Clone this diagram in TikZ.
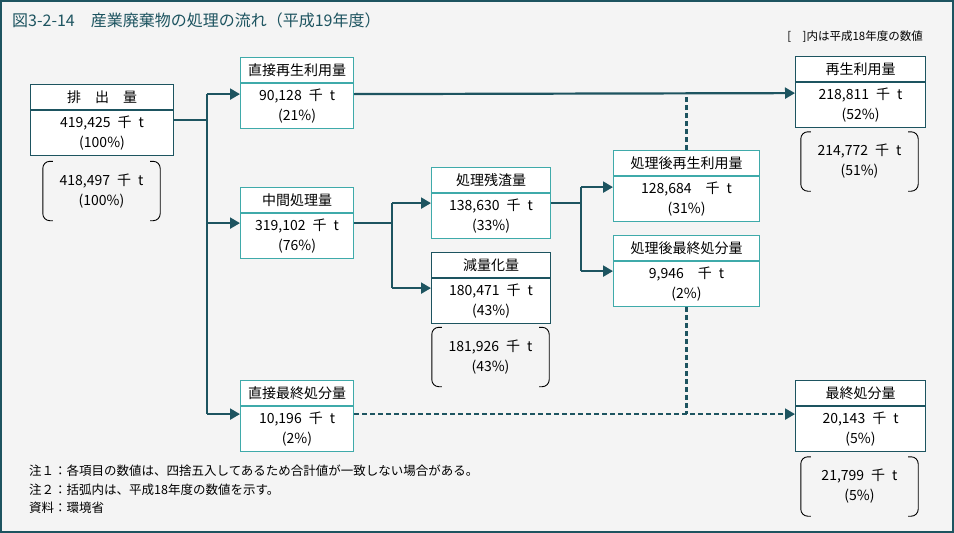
\documentclass[tikz,border=0pt]{standalone}
\usepackage{fontspec}
\setmainfont{Noto Sans CJK JP}
\usetikzlibrary{arrows.meta}
\definecolor{dk}{HTML}{1D5460}
\definecolor{tl}{HTML}{3FAAAA}
\definecolor{bg}{HTML}{F4F4F4}
\begin{document}
\begin{tikzpicture}[x=1pt,y=-1pt,
  hdr/.style={draw=#1, fill=white, line width=1.1pt, minimum height=25pt, inner sep=0pt,
    anchor=north west, font=\fontsize{14}{16}\selectfont},
  bdy/.style={draw=#1, fill=white, line width=1.1pt, minimum height=45pt, inner sep=0pt,
    anchor=north, align=center, font=\fontsize{14}{20}\selectfont},
  brk/.style={minimum width=117pt, minimum height=59pt, inner sep=0pt, align=center,
    font=\fontsize{14}{20}\selectfont},
  brkline/.style={draw=black, line width=0.9pt, rounded corners=7pt},
  flow/.style={draw=dk, line width=2.2pt},
  arr/.style={draw=dk, line width=2.2pt, -{Triangle[length=10pt,width=11pt]}},
  dflow/.style={draw=dk, line width=2.2pt, dash pattern=on 5pt off 3pt},
  note/.style={anchor=west, inner sep=0pt, font=\fontsize{12.5}{14}\selectfont}
]
\useasboundingbox (0,0) rectangle (954,533);
\draw[draw=dk, fill=bg, line width=2pt] (1,1) rectangle (953,532);

\node[anchor=west, inner sep=0pt, text=dk, font=\fontsize{16}{18}\selectfont] (title) at (12,20)
  {図3-2-14　産業廃棄物の処理の流れ（平成19年度）};
\node[anchor=east, inner sep=0pt, font=\fontsize{11.5}{13}\selectfont] (legend) at (923,37)
  {[　]内は平成18年度の数値};

% boxes
\node[hdr=dk, minimum width=143pt] (Ph) at (30,84) {排　出　量};
\node[bdy=dk, minimum width=143pt] (Pb) at (Ph.south) {419,425\enspace 千\enspace t\\(100\%)};

\node[hdr=tl, minimum width=113pt] (DRh) at (240,57) {直接再生利用量};
\node[bdy=tl, minimum width=113pt] (DRb) at (DRh.south) {90,128\enspace 千\enspace t\\(21\%)};

\node[hdr=tl, minimum width=113pt] (MTh) at (240,187) {中間処理量};
\node[bdy=tl, minimum width=113pt] (MTb) at (MTh.south) {319,102\enspace 千\enspace t\\(76\%)};

\node[hdr=tl, minimum width=119pt] (RSh) at (431,167) {処理残渣量};
\node[bdy=tl, minimum width=119pt] (RSb) at (RSh.south) {138,630\enspace 千\enspace t\\(33\%)};

\node[hdr=dk, minimum width=119pt] (RDh) at (431,252) {減量化量};
\node[bdy=dk, minimum width=119pt] (RDb) at (RDh.south) {180,471\enspace 千\enspace t\\(43\%)};

\node[hdr=tl, minimum width=146pt] (PRh) at (613,150) {処理後再生利用量};
\node[bdy=tl, minimum width=146pt] (PRb) at (PRh.south) {128,684　千\enspace t\\(31\%)};

\node[hdr=tl, minimum width=146pt] (PFh) at (613,235) {処理後最終処分量};
\node[bdy=tl, minimum width=146pt] (PFb) at (PFh.south) {9,946　千\enspace t\\(2\%)};

\node[hdr=tl, minimum width=113pt] (DFh) at (240,380) {直接最終処分量};
\node[bdy=tl, minimum width=113pt] (DFb) at (DFh.south) {10,196\enspace 千\enspace t\\(2\%)};

\node[hdr=dk, minimum width=130pt] (RCh) at (795,56) {再生利用量};
\node[bdy=dk, minimum width=130pt] (RCb) at (RCh.south) {218,811\enspace 千\enspace t\\(52\%)};

\node[hdr=dk, minimum width=130pt] (FDh) at (795,380) {最終処分量};
\node[bdy=dk, minimum width=130pt] (FDb) at (FDh.south) {20,143\enspace 千\enspace t\\(5\%)};

% bracketed previous-year values
\node[brk] (B1) at (101.5,191) {418,497\enspace 千\enspace t\\(100\%)};
\node[brk] (B2) at (490.5,357) {181,926\enspace 千\enspace t\\(43\%)};
\node[brk] (B3) at (859.5,161.5) {214,772\enspace 千\enspace t\\(51\%)};
\node[brk] (B4) at (859.5,486.5) {21,799\enspace 千\enspace t\\(5\%)};
\foreach \b in {B1,B2,B3,B4}{
  \draw[brkline] ([xshift=10pt]\b.north west) -- (\b.north west) -- (\b.south west) -- ([xshift=10pt]\b.south west);
  \draw[brkline] ([xshift=-10pt]\b.north east) -- (\b.north east) -- (\b.south east) -- ([xshift=-10pt]\b.south east);
}

% ports
\coordinate (Pe) at ([yshift=-10pt]Ph.south east);
\coordinate (DRw) at ([yshift=-11pt]DRh.south west);
\coordinate (DRe) at ([yshift=-11pt]DRh.south east);
\coordinate (MTw) at ([yshift=-10pt]MTh.south west);
\coordinate (MTe) at ([yshift=-10pt]MTh.south east);
\coordinate (RSw) at ([yshift=-10pt]RSh.south west);
\coordinate (RSe) at ([yshift=-10pt]RSh.south east);
\coordinate (RDw) at ([yshift=-10pt]RDh.south west);
\coordinate (PRw) at ([yshift=-11pt]PRh.south west);
\coordinate (PFw) at ([yshift=-10pt]PFh.south west);
\coordinate (DFw) at ([yshift=-8pt]DFh.south west);
\coordinate (DFe) at ([yshift=-8pt]DFh.south east);
\coordinate (RCw) at ([yshift=-11pt]RCh.south west);
\coordinate (FDw) at ([yshift=-8pt]FDh.south west);
\coordinate (j1) at (207,0);
\coordinate (j2) at (392,0);
\coordinate (j3) at (581,0);

% solid flows
\draw[flow] (Pe) -- (j1 |- Pe);
\draw[flow] (j1 |- DRw) -- (j1 |- DFw);
\draw[arr] (j1 |- DRw) -- (DRw);
\draw[arr] (j1 |- MTw) -- (MTw);
\draw[arr] (j1 |- DFw) -- (DFw);
\draw[arr] (DRe) -- (RCw);

\draw[flow] (MTe) -- (j2 |- MTe);
\draw[flow] (j2 |- RSw) -- (j2 |- RDw);
\draw[arr] (j2 |- RSw) -- (RSw);
\draw[arr] (j2 |- RDw) -- (RDw);

\draw[flow] (RSe) -- (j3 |- RSe);
\draw[flow] (j3 |- PRw) -- (j3 |- PFw);
\draw[arr] (j3 |- PRw) -- (PRw);
\draw[arr] (j3 |- PFw) -- (PFw);

% dashed flows
\draw[dflow] (PRh.north) -- (PRh.north |- DRe);
\draw[dflow] (PFb.south) -- (PFb.south |- DFe);
\draw[dflow, -{Triangle[length=10pt,width=11pt]}] (DFe) -- (FDw);

% notes
\node[note] (n1) at (29,471) {注１：各項目の数値は、四捨五入してあるため合計値が一致しない場合がある。};
\node[note] (n2) at (29,490) {注２：括弧内は、平成18年度の数値を示す。};
\node[note] (n3) at (29,508) {資料：環境省};
\end{tikzpicture}
\end{document}
